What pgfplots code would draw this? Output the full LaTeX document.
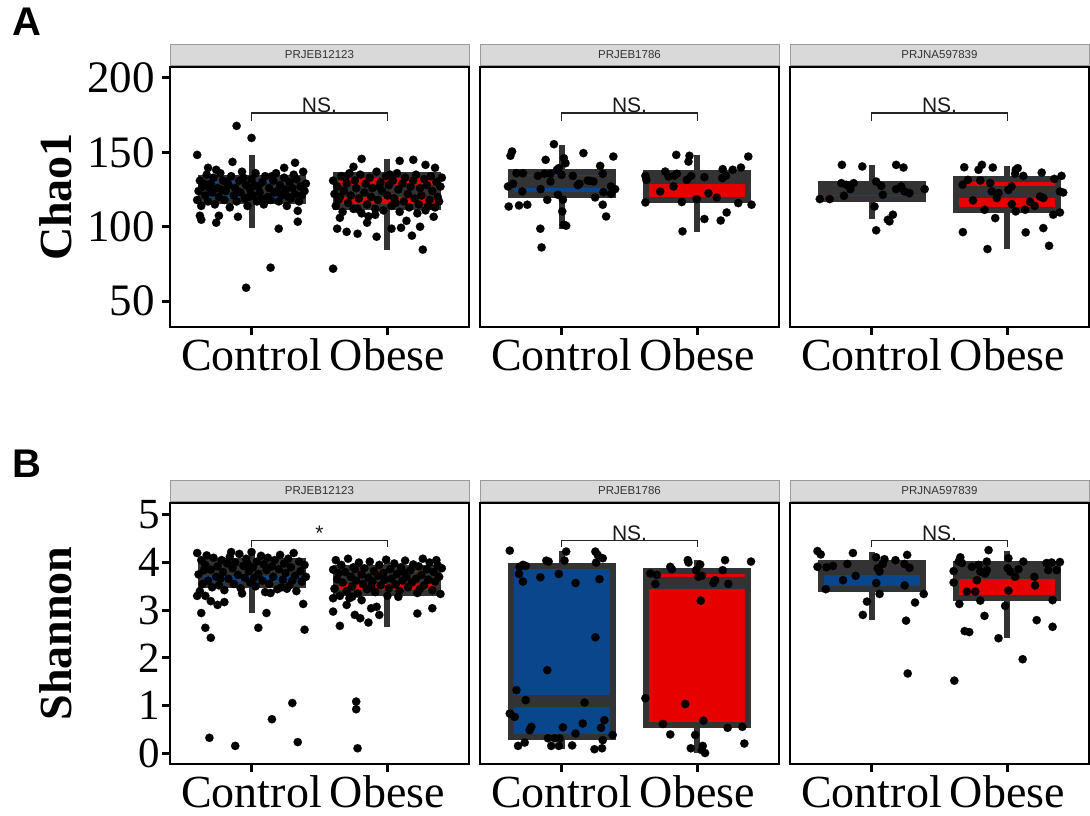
\documentclass[border=0pt]{standalone}
\usepackage{pgfplots}
\pgfplotsset{compat=1.18}
\usepackage{fontspec}
\setmainfont{Liberation Serif}
\newfontfamily\sansf{Liberation Sans}
\definecolor{boxgray}{HTML}{333333}
\definecolor{ctrlblue}{HTML}{0A468C}
\definecolor{obred}{HTML}{E60000}
\definecolor{stripgray}{HTML}{D9D9D9}
\definecolor{stripedge}{HTML}{9A9A9A}

\pgfplotsset{
  facet/.style={
    scale only axis, width=299pt,
    xmin=0.4, xmax=2.6, xtick={1,2}, xticklabels={Control,Obese},
    axis line style={line width=2.6pt, black},
    tick style={line width=3pt, black},
    major tick length=8pt, tick align=outside,
    xtick pos=left, ytick pos=left,
    clip=false,
    /pgf/number format/assume math mode=true,
    xticklabel style={font=\fontsize{46}{46}\selectfont, inner sep=0pt, yshift=-3pt},
  },
  rowA/.style={facet, height=260pt, ymin=32.6, ymax=207.4, ytick={50,100,150,200},
     yticklabel style={font=\fontsize{45}{45}\selectfont, inner sep=0pt, xshift=-7pt}},
  rowB/.style={facet, height=261pt, ymin=-0.23, ymax=5.25, ytick={0,1,2,3,4,5},
     yticklabel style={font=\fontsize{43}{43}\selectfont, inner sep=0pt, xshift=-1.5pt}},
  noy/.style={ytick=\empty},
  pts/.style={only marks, mark=*, mark size=4.2pt, black, mark options={fill=black, draw=black, line width=0.1pt}},
}

% box: left, center, right, lower whisker, q1, median, q3, upper whisker, fill
\newcommand{\gbox}[9]{%
  \addplot[boxgray, line width=6pt, forget plot] coordinates {(#2,#4)(#2,#5)};
  \addplot[boxgray, line width=6pt, forget plot] coordinates {(#2,#7)(#2,#8)};
  \addplot[draw=boxgray, fill=#9, line width=6pt, line join=miter, forget plot] coordinates {(#1,#5)(#3,#5)(#3,#7)(#1,#7)} -- cycle;
  \addplot[boxgray, line width=12pt, forget plot] coordinates {(#1,#6)(#3,#6)};
}
\newcommand{\strip}[1]{%
  \draw[draw=stripedge, fill=stripgray, line width=0.8pt] ([yshift=2pt]axis description cs:0,1) rectangle ([yshift=23pt]axis description cs:1,1);
  \node[font=\sansf\fontsize{11.5}{12}\selectfont, text=black!80, inner sep=0pt] at ([yshift=12.5pt]axis description cs:0.5,1) {#1};
}
\newcommand{\bracketA}[1]{%
  \draw[line width=1.3pt, black!85] (axis cs:1,170.8) -- (axis cs:1,176.5) -- (axis cs:2,176.5) -- (axis cs:2,170.8);
  \node[font=\sansf\fontsize{21}{21}\selectfont, anchor=base, inner sep=0pt, text=black!90] at (axis cs:1.5,176.5) {#1};
}
\newcommand{\bracketB}[1]{%
  \draw[line width=1.3pt, black!85] (axis cs:1,4.33) -- (axis cs:1,4.46) -- (axis cs:2,4.46) -- (axis cs:2,4.33);
  \node[font=\sansf\fontsize{21}{21}\selectfont, anchor=base, inner sep=0pt, text=black!90] at (axis cs:1.5,4.46) {#1};
}

\begin{document}
\begin{tikzpicture}

% ================= Row A : Chao1 =================
\begin{axis}[rowA, ylabel={Chao1},
  every axis y label/.style={at={(axis description cs:0,0.5)}, xshift=-114pt, rotate=90, anchor=center, inner sep=0pt, font=\bfseries\fontsize{46}{46}\selectfont},
  at={(170pt,489pt)}, anchor=south west]
\strip{PRJEB12123}
\gbox{0.625}{1}{1.375}{99.3}{117.4}{125.5}{133}{148.3}{ctrlblue}
\gbox{1.625}{2}{2.375}{84.6}{113.4}{124}{134.9}{145.6}{obred}
\addplot[pts] coordinates {
(0.89,167.8)(1.00,159.7)(0.60,148.3)(0.96,59.0)(1.14,72.5)(1.20,98.7)(0.62,107.4)(0.63,104.7)(0.76,107.4)(0.74,102.7)(0.90,106.7)(1.34,110.7)(1.34,103.4)(1.32,143.0)(0.86,143.6)(0.68,139.6)(0.74,138.3)(1.24,139.6)(1.38,137.0)
(0.60,118)(0.61,124)(0.62,131)(0.63,114)(0.64,127)(0.66,121)(0.67,135)(0.68,117)(0.70,129)(0.71,123)(0.72,133)(0.73,115)(0.75,126)(0.76,120)(0.77,136)(0.79,131)(0.80,118)(0.81,124)(0.83,128)(0.84,113)(0.85,134)(0.87,121)(0.88,126)(0.89,117)(0.91,131)(0.92,123)(0.93,137)(0.95,119)(0.96,128)(0.97,114)(0.99,125)(1.00,132)(1.01,121)(1.03,136)(1.04,117)(1.05,127)(1.06,123)(1.08,130)(1.09,115)(1.10,134)(1.12,120)(1.13,126)(1.14,118)(1.16,131)(1.17,123)(1.18,136)(1.20,117)(1.21,128)(1.22,121)(1.24,133)(1.25,125)(1.26,114)(1.28,130)(1.29,119)(1.30,126)(1.32,122)(1.33,132)(1.35,117)(1.36,127)(1.37,121)(1.39,124)(1.40,129)(0.65,129)(0.78,125)(0.94,133)(1.07,119)(1.19,124)(1.31,135)(1.27,120)(0.82,130)(0.69,126)(1.02,128)(1.15,134)(0.98,120)
};
\addplot[pts] coordinates {
(1.60,71.8)(2.26,84.6)(2.18,94.0)(1.92,93.3)(1.78,95.3)(1.63,98.7)(1.70,96.6)(2.03,98.7)(2.10,99.3)(2.24,100.0)(1.85,102.7)(1.91,108.0)(1.65,106.0)(2.34,106.7)(1.81,145.6)(2.09,144.3)(2.19,145.0)(2.28,141.6)(2.35,139.6)(1.75,140.3)
(1.60,131)(1.61,122)(1.62,114)(1.63,127)(1.64,118)(1.66,134)(1.67,110)(1.68,124)(1.70,129)(1.71,116)(1.72,136)(1.73,121)(1.75,112)(1.76,131)(1.77,126)(1.79,119)(1.80,135)(1.81,109)(1.83,123)(1.84,129)(1.85,115)(1.87,133)(1.88,120)(1.89,126)(1.91,112)(1.92,137)(1.93,118)(1.95,130)(1.96,124)(1.97,111)(1.99,134)(2.00,121)(2.01,128)(2.03,114)(2.04,131)(2.05,119)(2.07,136)(2.08,125)(2.09,110)(2.11,129)(2.12,117)(2.13,133)(2.15,122)(2.16,113)(2.17,127)(2.19,131)(2.20,119)(2.21,135)(2.23,115)(2.24,126)(2.25,121)(2.27,132)(2.28,111)(2.29,128)(2.31,118)(2.32,134)(2.33,124)(2.35,113)(2.36,130)(2.37,120)(2.39,127)(2.40,133)(1.65,120)(1.78,112)(1.94,127)(2.06,116)(2.22,109)(2.38,117)(1.69,133)(1.86,107)(2.02,135)(2.14,104)(2.30,114)
};
\bracketA{NS.}
\end{axis}

\begin{axis}[rowA, noy, at={(480pt,489pt)}, anchor=south west]
\strip{PRJEB1786}
\gbox{0.625}{1}{1.375}{98.7}{121.5}{130}{137}{155}{ctrlblue}
\gbox{1.625}{2}{2.375}{96.6}{118}{133}{136.2}{148}{obred}
\addplot[pts] coordinates {
(0.636,150.6)(0.624,147.7)(0.944,155.5)(0.883,145.0)(1.161,149.5)(1.381,147.2)(1.017,146.1)(1.029,142.7)(1.284,140.9)(0.668,136.0)(0.716,136.0)(0.826,134.2)(0.875,135.6)(0.919,135.6)(0.966,138.3)(1.000,134.9)(1.083,134.2)(1.132,128.9)(1.193,131.1)(1.235,130.4)(1.303,135.6)(0.606,127.1)(0.643,128.9)(0.711,123.7)(0.846,125.3)(0.919,130.4)(0.980,139.4)(1.364,127.1)(1.394,125.3)(1.308,123.3)(1.247,119.7)(1.364,122.1)(0.611,113.6)(0.687,114.3)(0.748,114.8)(0.895,118.1)(0.973,121.5)(1.010,118.1)(1.303,114.8)(1.328,106.9)(1.005,110.3)(1.017,101.3)(1.034,100.7)(0.844,98.7)(0.853,86.1)(1.12,128.0)(1.21,130.8)
};
\addplot[pts] coordinates {
(1.844,148.3)(1.941,147.7)(1.934,143.8)(2.374,147.2)(1.617,134.2)(1.624,131.5)(1.763,137.1)(1.787,133.8)(1.831,134.4)(1.848,135.6)(1.922,131.5)(1.954,134.2)(2.051,133.3)(2.186,138.7)(2.259,138.3)(2.320,139.8)(2.210,134.2)(2.183,132.7)(1.726,123.7)(1.824,127.1)(2.081,122.6)(2.142,119.7)(1.617,116.3)(1.885,116.6)(1.995,118.6)(2.300,115.9)(2.398,114.8)(2.051,105.2)(2.171,104.2)(2.215,109.6)(1.890,96.9)
};
\bracketA{NS.}
\end{axis}

\begin{axis}[rowA, noy, at={(790pt,489pt)}, anchor=south west]
\strip{PRJNA597839}
\gbox{0.625}{1}{1.375}{105.4}{118.8}{125.5}{128.9}{141.6}{ctrlblue}
\gbox{1.625}{2}{2.375}{85}{111.4}{123.5}{132.2}{141}{obred}
\addplot[pts] coordinates {
(0.782,141.6)(0.932,140.5)(1.181,141.6)(1.235,139.8)(0.778,129.3)(0.814,128.2)(0.868,129.3)(0.844,125.3)(1.034,130.4)(1.071,127.5)(1.083,121.5)(0.619,118.6)(0.692,118.6)(0.797,120.8)(1.181,125.3)(1.218,127.1)(1.242,123.7)(1.279,122.6)(1.391,125.3)(1.022,113.6)(1.120,104.7)(1.132,103.6)(1.157,108.1)(1.034,97.6)
};
\addplot[pts] coordinates {
(1.682,140.0)(1.787,138.3)(1.812,141.6)(1.892,139.8)(2.061,138.3)(2.076,139.4)(2.252,136.4)(2.398,134.2)(2.345,132.2)(1.670,128.2)(1.709,131.5)(1.800,131.1)(1.873,129.3)(1.885,123.7)(1.934,122.6)(1.922,119.3)(2.007,124.8)(2.117,134.2)(2.056,135.6)(1.746,117.7)(1.831,111.4)(1.910,105.8)(2.032,115.2)(2.061,110.3)(2.130,111.4)(2.166,116.8)(2.240,120.3)(2.264,119.3)(2.386,123.7)(2.410,123.0)(2.337,108.1)(2.386,109.6)(1.672,96.4)(1.853,85.0)(2.134,96.2)(2.264,99.1)(2.306,87.2)(2.030,127.1)(2.200,114.0)
};
\bracketA{NS.}
\end{axis}

% ================= Row B : Shannon =================
\begin{axis}[rowB, ylabel={Shannon},
  every axis y label/.style={at={(axis description cs:0,0.5)}, xshift=-114pt, rotate=90, anchor=center, inner sep=0pt, font=\bfseries\fontsize{46}{46}\selectfont},
  at={(170pt,52pt)}, anchor=south west]
\strip{PRJEB12123}
\gbox{0.625}{1}{1.375}{2.94}{3.53}{3.85}{4.03}{4.25}{ctrlblue}
\gbox{1.625}{2}{2.375}{2.65}{3.36}{3.68}{3.89}{4.12}{obred}
\addplot[pts] coordinates {
(0.69,0.32)(0.88,0.15)(1.15,0.71)(1.30,1.05)(1.34,0.23)(1.05,2.63)(1.39,2.59)(0.66,2.63)(0.70,2.42)(0.63,2.94)(1.11,2.94)(1.38,3.13)(0.70,3.19)(0.75,3.11)(0.66,3.30)(0.80,3.17)(0.60,3.30)
(0.60,4.20)(0.61,3.75)(0.62,3.40)(0.63,4.05)(0.64,3.55)(0.66,3.95)(0.67,4.15)(0.68,3.62)(0.70,3.85)(0.71,3.48)(0.72,4.10)(0.74,3.70)(0.75,3.92)(0.76,3.52)(0.78,4.05)(0.79,3.80)(0.80,3.42)(0.82,3.98)(0.83,3.66)(0.84,4.12)(0.86,3.88)(0.87,3.55)(0.88,4.00)(0.90,3.74)(0.91,4.18)(0.92,3.46)(0.94,3.93)(0.95,3.68)(0.96,4.08)(0.98,3.82)(0.99,3.58)(1.00,4.22)(1.01,3.90)(1.03,3.50)(1.04,4.02)(1.05,3.76)(1.07,4.14)(1.08,3.62)(1.09,3.96)(1.11,3.84)(1.12,4.10)(1.13,3.55)(1.15,3.92)(1.16,3.70)(1.17,4.05)(1.19,3.44)(1.20,3.86)(1.21,4.16)(1.23,3.64)(1.24,3.98)(1.25,3.78)(1.27,4.08)(1.28,3.52)(1.29,3.90)(1.31,4.20)(1.32,3.72)(1.33,3.40)(1.35,4.02)(1.36,3.82)(1.37,3.60)(1.39,3.95)(1.40,3.70)(0.65,3.84)(0.77,3.66)(0.93,3.35)(1.02,3.68)(1.14,3.36)(1.26,3.45)(1.30,3.62)(0.85,4.22)(0.97,3.98)(1.10,3.38)(1.22,3.48)
};
\addplot[pts] coordinates {
(1.78,0.10)(1.77,0.92)(1.77,1.08)(1.65,2.67)(1.86,2.74)(1.80,2.83)(1.76,2.90)(2.22,2.93)(2.33,3.04)(1.60,2.97)(1.60,3.25)(1.70,3.11)(1.74,3.28)(1.81,3.21)(1.88,3.04)(1.92,3.07)(1.94,2.90)
(1.60,3.85)(1.61,3.45)(1.62,4.05)(1.63,3.65)(1.65,3.30)(1.66,3.95)(1.67,3.58)(1.69,3.80)(1.70,3.40)(1.71,4.08)(1.73,3.70)(1.74,3.50)(1.75,3.90)(1.77,3.62)(1.78,3.35)(1.79,4.00)(1.81,3.75)(1.82,3.55)(1.83,3.88)(1.85,3.44)(1.86,3.68)(1.87,4.02)(1.89,3.60)(1.90,3.82)(1.91,3.38)(1.93,3.72)(1.94,3.95)(1.95,3.52)(1.97,3.78)(1.98,3.64)(1.99,4.06)(2.01,3.46)(2.02,3.86)(2.03,3.66)(2.05,3.98)(2.06,3.54)(2.07,3.76)(2.09,3.40)(2.10,3.90)(2.11,3.62)(2.13,4.04)(2.14,3.70)(2.15,3.48)(2.17,3.84)(2.18,3.58)(2.19,3.96)(2.21,3.66)(2.22,3.36)(2.23,3.92)(2.25,3.74)(2.26,4.08)(2.27,3.52)(2.29,3.86)(2.30,3.64)(2.31,4.00)(2.33,3.42)(2.34,3.80)(2.35,3.60)(2.37,3.94)(2.38,3.70)(2.39,3.34)(2.40,3.88)(1.64,3.78)(1.76,3.86)(1.88,3.50)(2.00,3.30)(2.12,3.80)(2.24,3.45)(2.36,4.05)(1.72,3.25)(2.08,3.28)
};
\bracketB{*}
\end{axis}

\begin{axis}[rowB, noy, at={(480pt,52pt)}, anchor=south west]
\strip{PRJEB1786}
\gbox{0.625}{1}{1.375}{0.08}{0.34}{1.10}{3.93}{4.24}{ctrlblue}
\gbox{1.625}{2}{2.375}{0.0}{0.58}{3.57}{3.83}{4.05}{obred}
\addplot[pts] coordinates {
(0.619,4.25)(0.692,3.91)(0.716,3.95)(0.736,3.93)(0.687,3.76)(0.716,3.60)(0.888,4.04)(0.905,4.02)(0.844,3.69)(0.980,3.76)(1.034,4.23)(1.022,4.04)(1.103,3.57)(1.249,4.23)(1.266,4.16)(1.303,4.09)(1.254,4.00)(1.279,3.65)(1.249,2.43)(0.895,1.74)(0.668,1.32)(0.736,1.11)(1.169,1.06)(0.619,0.83)(0.655,0.76)(0.778,0.55)(0.765,0.48)(1.010,0.54)(1.103,0.41)(1.156,0.62)(1.291,0.53)(1.315,0.69)(0.900,0.31)(0.949,0.31)(0.924,0.15)(0.980,0.15)(1.078,0.16)(0.680,0.15)(0.729,0.22)(1.303,0.27)(1.376,0.38)(1.242,0.08)(1.298,0.10)(0.985,0.31)
};
\addplot[pts] coordinates {
(1.653,3.77)(1.702,3.74)(1.690,3.55)(1.800,3.91)(1.812,3.86)(1.929,4.05)(1.934,4.00)(1.990,3.84)(2.020,3.96)(2.032,3.72)(2.007,3.70)(2.130,3.63)(2.117,3.57)(2.227,3.55)(2.203,4.05)(2.394,4.02)(2.186,3.84)(2.024,3.20)(1.617,1.15)(1.910,1.03)(2.044,0.68)(1.746,0.61)(1.800,0.39)(1.983,0.38)(2.222,0.53)(2.330,0.55)(2.345,0.20)(1.951,0.10)(2.039,0.15)(2.056,0.00)(2.032,0.06)
};
\bracketB{NS.}
\end{axis}

\begin{axis}[rowB, noy, at={(790pt,52pt)}, anchor=south west]
\strip{PRJNA597839}
\gbox{0.625}{1}{1.375}{2.8}{3.45}{3.86}{4.0}{4.22}{ctrlblue}
\gbox{1.625}{2}{2.375}{2.42}{3.26}{3.78}{3.97}{4.24}{obred}
\addplot[pts] coordinates {
(0.602,4.24)(0.626,4.17)(0.863,4.20)(0.602,3.91)(0.668,3.90)(0.716,3.93)(0.822,3.97)(0.790,3.63)(0.883,3.72)(0.663,3.44)(1.034,4.11)(1.095,4.07)(1.083,3.97)(1.046,3.88)(1.059,3.81)(1.176,4.05)(1.262,4.16)(1.242,3.97)(1.279,3.89)(1.244,3.52)(1.034,3.57)(1.059,3.34)(0.966,3.18)(1.384,3.34)(1.320,3.16)(0.936,2.90)(1.254,2.78)(1.266,1.67)
};
\addplot[pts] coordinates {
(1.861,4.26)(1.653,4.11)(1.641,4.02)(1.665,3.99)(1.604,3.82)(1.604,3.58)(1.738,3.91)(1.787,3.95)(1.800,3.81)(1.848,4.02)(1.848,3.84)(1.836,3.77)(2.007,4.09)(2.002,3.88)(2.020,3.81)(2.056,3.70)(2.117,4.02)(2.081,3.86)(2.198,3.70)(2.203,3.52)(2.288,3.99)(2.325,4.00)(2.386,4.01)(2.300,3.84)(2.362,3.84)(1.775,3.63)(1.702,3.39)(1.763,3.39)(2.007,3.41)(1.646,3.13)(1.800,3.20)(1.831,2.88)(1.983,3.09)(2.332,3.21)(2.215,2.79)(2.332,2.65)(1.685,2.56)(1.719,2.54)(1.934,2.41)(2.112,1.97)(1.609,1.52)
};
\bracketB{NS.}
\end{axis}

\node[font=\sansf\bfseries\fontsize{40}{40}\selectfont, anchor=north west, inner sep=0pt] at (12pt,808pt) {A};
\node[font=\sansf\bfseries\fontsize{40}{40}\selectfont, anchor=north west, inner sep=0pt] at (12pt,366pt) {B};

\pgfresetboundingbox
\path[use as bounding box] (0pt,0pt) rectangle (1090pt,816pt);
\end{tikzpicture}
\end{document}
